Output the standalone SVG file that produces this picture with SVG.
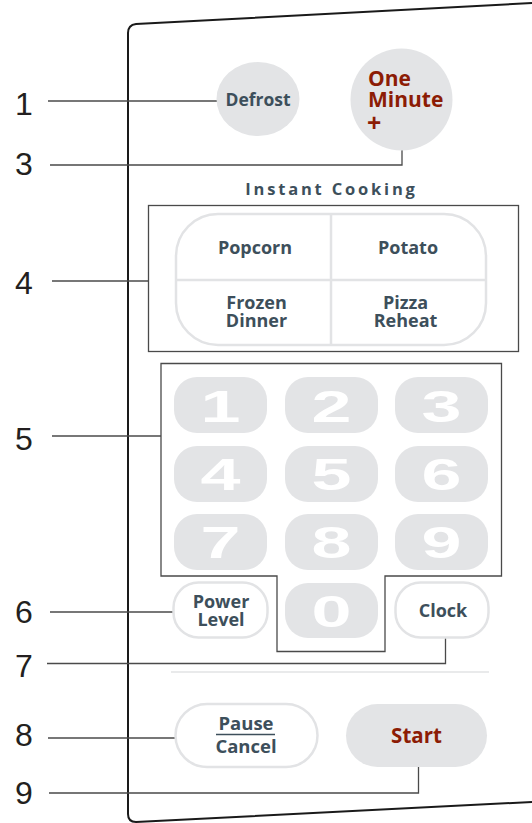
<svg xmlns="http://www.w3.org/2000/svg" width="532" height="823" viewBox="0 0 532 823">
<style>
.lbl{font-family:"Liberation Sans",Arial,sans-serif;font-size:32px;fill:#231f20}
.t{font-family:"Open Sans","Liberation Sans",sans-serif;font-weight:bold;fill:#3d4f5b;text-anchor:middle}
.r{font-family:"Open Sans","Liberation Sans",sans-serif;font-weight:bold;fill:#8c1c05}
.key{fill:#e3e4e6}
.dig{font-family:"Liberation Sans",Arial,sans-serif;font-weight:bold;font-size:44px;fill:#ffffff;text-anchor:middle}
.ob{fill:#ffffff;stroke:#e2e3e5;stroke-width:2.5}
.ld{fill:none;stroke:#4a4a4a;stroke-width:1.3}
</style>
<rect width="532" height="823" fill="#ffffff"/>
<g id="panel">
<path d="M532,3 L136,24 Q128,25 128,33 V814 Q128,822 136,822 L532,802" fill="none" stroke="#1a1a1a" stroke-width="2"/>
<line x1="171" y1="672" x2="489" y2="672" stroke="#e2e3e5" stroke-width="1.5"/>
</g>
<g id="connectors">
<polyline class="ld" points="48,101 218,101"/>
<polyline class="ld" points="50,165 402,165 402,150"/>
<polyline class="ld" points="52,281 148,281"/>
<polyline class="ld" points="52,436 161,436"/>
<polyline class="ld" points="50,612 173,612"/>
<polyline class="ld" points="47,663.5 445.5,663.5 445.5,638"/>
<polyline class="ld" points="48,738 175,738"/>
<polyline class="ld" points="49,793 418.5,793 418.5,767"/>
</g>
<g id="labels">
<text class="lbl" x="15" y="115">1</text>
<text class="lbl" x="15" y="175">3</text>
<text class="lbl" x="15" y="294">4</text>
<text class="lbl" x="15" y="450">5</text>
<text class="lbl" x="15" y="623">6</text>
<text class="lbl" x="15" y="677">7</text>
<text class="lbl" x="15" y="746">8</text>
<text class="lbl" x="15" y="804">9</text>
</g>
<g id="defrost">
<ellipse cx="258" cy="99" rx="41.5" ry="37" class="key"/>
<text class="t" x="258" y="106" font-size="17.5">Defrost</text>
</g>
<g id="one-minute">
<circle cx="401.5" cy="99.5" r="51" class="key"/>
<text class="r" x="368" y="86" font-size="21">One</text>
<text class="r" x="368" y="107" font-size="21">Minute</text>
<text class="r" x="367" y="132" font-size="25">+</text>
</g>
<g id="instant-cooking">
<text class="t" x="331.5" y="195" font-size="16.5" letter-spacing="2.8">Instant Cooking</text>
<rect x="148.5" y="205.5" width="370" height="146" fill="none" stroke="#4a4a4a" stroke-width="1.3"/>
<rect x="176" y="214" width="310" height="131" rx="42" ry="42" fill="#ffffff" stroke="#e2e3e5" stroke-width="2.5"/>
<line x1="331" y1="214" x2="331" y2="345" stroke="#e2e3e5" stroke-width="2.5"/>
<line x1="176" y1="280" x2="486" y2="280" stroke="#e2e3e5" stroke-width="2.5"/>
<text class="t" x="255" y="254" font-size="18">Popcorn</text>
<text class="t" x="408" y="254" font-size="18">Potato</text>
<text class="t" x="256.5" y="308.5" font-size="18">Frozen</text>
<text class="t" x="256.5" y="327" font-size="18">Dinner</text>
<text class="t" x="405.5" y="308.5" font-size="18">Pizza</text>
<text class="t" x="405.5" y="327" font-size="18">Reheat</text>
</g>
<g id="number-pad">
<path d="M161,363.5 H501.5 V576 H385 V651.5 H277 V576 H161 Z" fill="none" stroke="#4a4a4a" stroke-width="1.3"/>
<rect class="key" x="174" y="377" width="93" height="56" rx="23"/>
<rect class="key" x="285" y="377" width="93" height="56" rx="23"/>
<rect class="key" x="395" y="377" width="93" height="56" rx="23"/>
<rect class="key" x="174" y="446" width="93" height="56" rx="23"/>
<rect class="key" x="285" y="446" width="93" height="56" rx="23"/>
<rect class="key" x="395" y="446" width="93" height="56" rx="23"/>
<rect class="key" x="174" y="514" width="93" height="56" rx="23"/>
<rect class="key" x="285" y="514" width="93" height="56" rx="23"/>
<rect class="key" x="395" y="514" width="93" height="56" rx="23"/>
<rect class="key" x="285" y="583" width="93" height="55" rx="23"/>
<text class="dig" x="220.5" y="422" textLength="40" lengthAdjust="spacingAndGlyphs">1</text>
<text class="dig" x="331.5" y="422" textLength="40" lengthAdjust="spacingAndGlyphs">2</text>
<text class="dig" x="441.5" y="422" textLength="40" lengthAdjust="spacingAndGlyphs">3</text>
<text class="dig" x="220.5" y="490" textLength="40" lengthAdjust="spacingAndGlyphs">4</text>
<text class="dig" x="331.5" y="490" textLength="40" lengthAdjust="spacingAndGlyphs">5</text>
<text class="dig" x="441.5" y="490" textLength="40" lengthAdjust="spacingAndGlyphs">6</text>
<text class="dig" x="220.5" y="558" textLength="40" lengthAdjust="spacingAndGlyphs">7</text>
<text class="dig" x="331.5" y="558" textLength="40" lengthAdjust="spacingAndGlyphs">8</text>
<text class="dig" x="441.5" y="558" textLength="40" lengthAdjust="spacingAndGlyphs">9</text>
<text class="dig" x="331.5" y="627" textLength="40" lengthAdjust="spacingAndGlyphs">0</text>
</g>
<g id="power-level">
<rect class="ob" x="173.5" y="582.5" width="94" height="55" rx="25"/>
<text class="t" x="221" y="608" font-size="18">Power</text>
<text class="t" x="221" y="625.5" font-size="18">Level</text>
</g>
<g id="clock">
<rect class="ob" x="395.5" y="582.5" width="93" height="55" rx="25"/>
<text class="t" x="443" y="617" font-size="18">Clock</text>
</g>
<g id="pause-cancel">
<rect class="ob" x="175.5" y="704" width="142" height="63" rx="31.5"/>
<text class="t" x="246" y="730" font-size="18.5">Pause</text>
<line x1="216" y1="734.5" x2="275" y2="734.5" stroke="#3d4f5b" stroke-width="1.5"/>
<text class="t" x="246" y="752.5" font-size="18.5">Cancel</text>
</g>
<g id="start">
<rect class="key" x="346" y="704" width="141" height="63" rx="31.5"/>
<text class="r" x="416.5" y="743" font-size="20.5" text-anchor="middle">Start</text>
</g>
</svg>
